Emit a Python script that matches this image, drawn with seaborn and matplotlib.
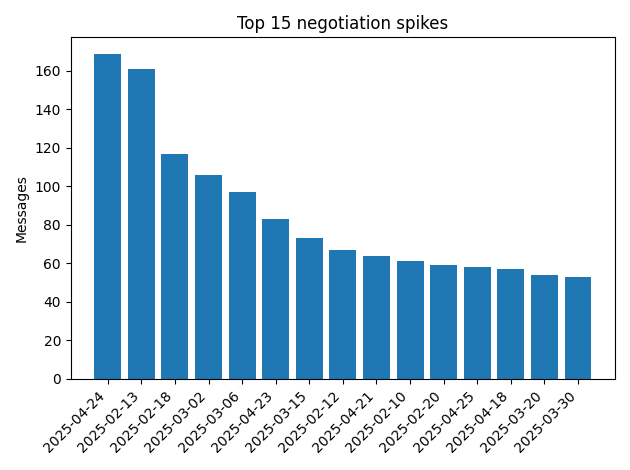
import matplotlib
matplotlib.use("Agg")
import matplotlib.pyplot as plt
import seaborn as sns
import pandas as pd

dates = ["2025-04-24","2025-02-13","2025-02-18","2025-03-02","2025-03-06","2025-04-23","2025-03-15",
         "2025-02-12","2025-04-21","2025-02-10","2025-02-20","2025-04-25","2025-04-18","2025-03-20","2025-03-30"]
messages = [169,161,117,106,97,83,73,67,64,61,59,58,57,54,53]

df = pd.DataFrame({"date": dates, "messages": messages})
fig, ax = plt.subplots(figsize=(6.3, 4.7), dpi=100)
sns.barplot(data=df, x="date", y="messages", color="#1f77b4", saturation=1, width=0.8, ax=ax)
ax.set_title("Top 15 negotiation spikes")
ax.set_ylabel("Messages")
ax.set_xlabel("")
ax.set_xlim(-0.5 - 0.04*15, 14.5 + 0.04*15)
plt.setp(ax.get_xticklabels(), rotation=45, ha="right")
fig.tight_layout()
fig.savefig("out.png")
